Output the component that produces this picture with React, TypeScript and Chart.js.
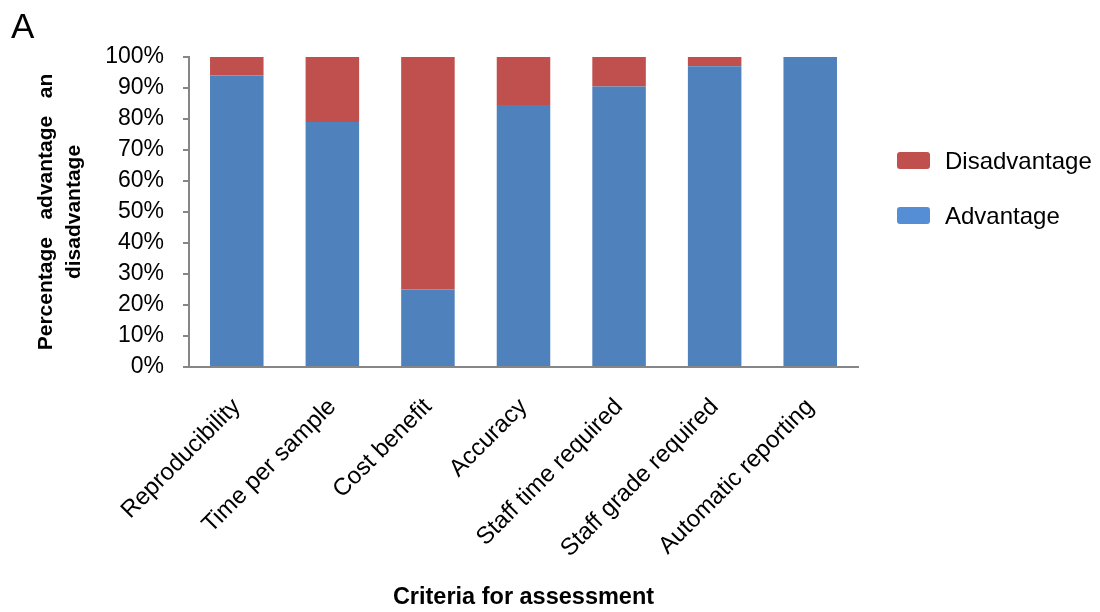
import React, { useEffect, useRef } from "react";
import { Chart, registerables } from "chart.js";

Chart.register(...registerables);

const categories = [
  "Reproducibility",
  "Time per sample",
  "Cost benefit",
  "Accuracy",
  "Staff time required",
  "Staff grade required",
  "Automatic reporting",
];
const advantage = [94, 79, 25, 84.5, 90.5, 97, 100];
const disadvantage = [6, 21, 75, 15.5, 9.5, 3, 0];
const yTicks = [0, 10, 20, 30, 40, 50, 60, 70, 80, 90, 100];

const FONT = "'Liberation Sans', Arial, sans-serif";
const BAR_BLUE = "#4F81BD";
const BAR_RED = "#C0504D";
const KEY_BLUE = "#558ED5";
const KEY_RED = "#C0504D";
const AXIS_GREY = "#868686";

// Legend drawn to the right of the plot, Disadvantage listed first
const sideLegend = {
  id: "sideLegend",
  afterDraw(chart: any) {
    const { ctx, chartArea } = chart;
    const keyColors = [KEY_BLUE, KEY_RED];
    const items = chart.data.datasets
      .map((ds: any, i: number) => ({ label: ds.label, color: keyColors[i] }))
      .reverse();
    ctx.save();
    ctx.font = `24px ${FONT}`;
    ctx.textBaseline = "middle";
    ctx.textAlign = "left";
    items.forEach((it: any, i: number) => {
      const x = chartArea.right + 39;
      const y = chartArea.top + 95 + i * 55;
      ctx.fillStyle = it.color;
      ctx.beginPath();
      (ctx as any).roundRect(x, y, 33, 17, 3);
      ctx.fill();
      ctx.fillStyle = "#000";
      ctx.fillText(it.label, x + 48, y + 10);
    });
    ctx.restore();
  },
};

// Panel letter in the top-left corner
const panelLetter = {
  id: "panelLetter",
  afterDraw(chart: any) {
    const { ctx } = chart;
    ctx.save();
    ctx.font = `35px ${FONT}`;
    ctx.fillStyle = "#000";
    ctx.textAlign = "left";
    ctx.textBaseline = "alphabetic";
    ctx.fillText("A", 11, 38);
    ctx.restore();
  },
};

export default function App() {
  const canvasRef = useRef<HTMLCanvasElement | null>(null);

  useEffect(() => {
    if (!canvasRef.current) return;
    const chart = new Chart(canvasRef.current, {
      type: "bar",
      data: {
        labels: categories,
        datasets: [
          {
            label: "Advantage",
            data: advantage,
            backgroundColor: BAR_BLUE,
            borderWidth: 0,
            barPercentage: 0.56,
            categoryPercentage: 1,
          },
          {
            label: "Disadvantage",
            data: disadvantage,
            backgroundColor: BAR_RED,
            borderWidth: 0,
            barPercentage: 0.56,
            categoryPercentage: 1,
          },
        ],
      },
      options: {
        animation: false,
        responsive: false,
        maintainAspectRatio: false,
        layout: { padding: { left: 0, top: 57, right: 242, bottom: 0 } },
        plugins: {
          legend: { display: false },
          tooltip: { enabled: false },
        },
        scales: {
          x: {
            stacked: true,
            grid: { display: false, drawTicks: false },
            border: { display: true, color: AXIS_GREY, width: 2 },
            ticks: {
              color: "#000",
              font: { family: FONT, size: 24 },
              minRotation: 45,
              maxRotation: 45,
              padding: 26,
              autoSkip: false,
            },
            title: {
              display: true,
              text: "Criteria for assessment",
              color: "#000",
              font: { family: FONT, size: 23.5, weight: "bold" },
              padding: { top: 0, bottom: 0 },
            },
            afterFit(scale: any) {
              scale.height = 245;
            },
          },
          y: {
            stacked: true,
            min: 0,
            max: 100,
            afterBuildTicks(scale: any) {
              scale.ticks = yTicks.map((v) => ({ value: v }));
            },
            grid: {
              display: true,
              drawOnChartArea: false,
              drawTicks: true,
              tickLength: 6,
              color: AXIS_GREY,
              lineWidth: 2,
            },
            border: { display: true, color: AXIS_GREY, width: 2 },
            ticks: {
              color: "#000",
              font: { family: FONT, size: 23 },
              padding: 19,
              callback: (v: any) => `${v}%`,
            },
            title: {
              display: true,
              text: ["Percentage   advantage   an", "disadvantage"],
              color: "#000",
              font: { family: FONT, size: 21, weight: "bold", lineHeight: 1.3 },
              padding: { top: 33, bottom: 0 },
            },
            afterFit(scale: any) {
              scale.width = 189;
            },
          },
        },
      },
      plugins: [sideLegend, panelLetter],
    });
    return () => chart.destroy();
  }, []);

  return (
    <div style={{ position: "absolute", left: 0, top: 0, width: 1100, height: 612, background: "#fff" }}>
      <canvas ref={canvasRef} width={1100} height={612} style={{ display: "block" }} />
    </div>
  );
}
